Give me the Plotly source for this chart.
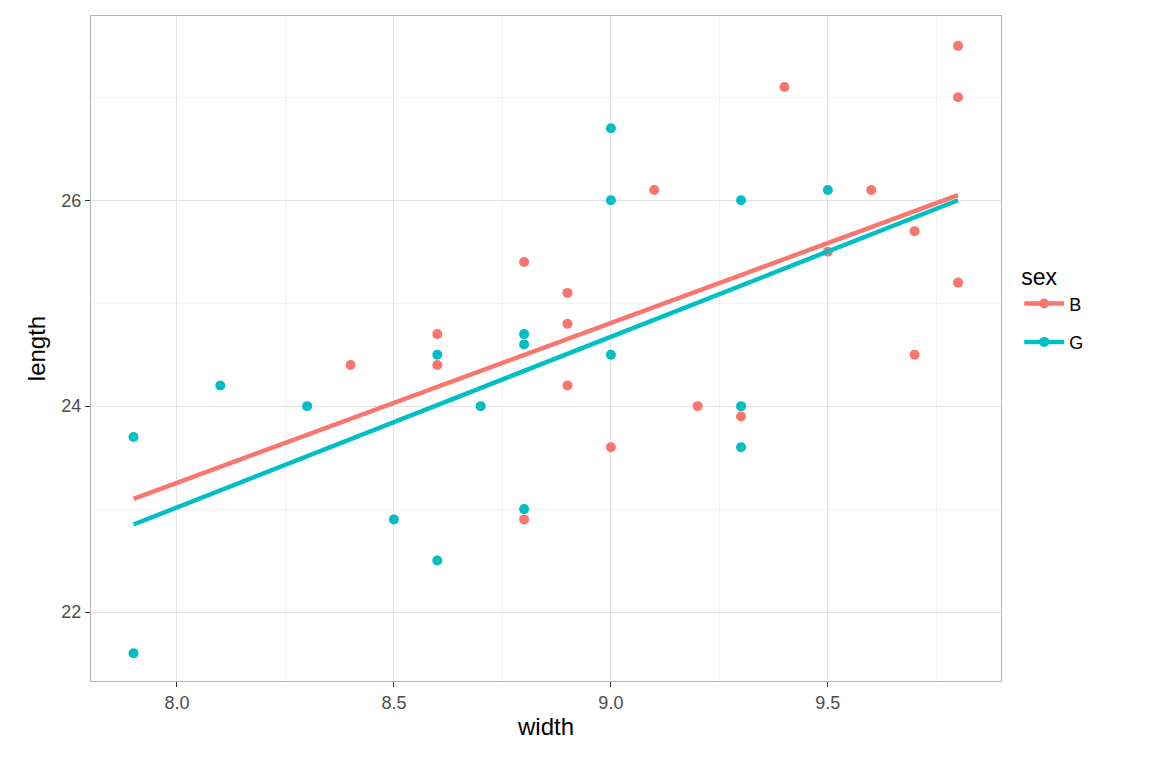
import plotly.graph_objects as go

# --- data ---
b_width = [8.4, 8.6, 8.6, 8.8, 8.8, 8.9, 8.9, 8.9, 9.0, 9.1, 9.2, 9.3, 9.4, 9.5, 9.6, 9.7, 9.7, 9.8, 9.8, 9.8]
b_length = [24.4, 24.7, 24.4, 25.4, 22.9, 25.1, 24.8, 24.2, 23.6, 26.1, 24.0, 23.9, 27.1, 25.5, 26.1, 25.7, 24.5, 27.5, 27.0, 25.2]
g_width = [7.9, 7.9, 8.1, 8.3, 8.5, 8.6, 8.6, 8.7, 8.8, 8.8, 8.8, 9.0, 9.0, 9.0, 9.3, 9.3, 9.3, 9.5]
g_length = [23.7, 21.6, 24.2, 24.0, 22.9, 24.5, 22.5, 24.0, 24.7, 24.6, 23.0, 26.7, 26.0, 24.5, 26.0, 24.0, 23.6, 26.1]

# fitted lines (endpoints as drawn)
fit_x = [7.9, 9.8]
b_fit = [23.1, 26.05]
g_fit = [22.85, 26.0]

RED = '#F8766D'
TEAL = '#00BFC4'

fig = go.Figure()
for name, col, wx, ly, fy in [('B', RED, b_width, b_length, b_fit),
                              ('G', TEAL, g_width, g_length, g_fit)]:
    fig.add_trace(go.Scatter(x=wx, y=ly, mode='markers', marker=dict(color=col, size=10),
                             name=name, legendgroup=name, showlegend=False))
    fig.add_trace(go.Scatter(x=fit_x, y=fy, mode='lines', line=dict(color=col, width=4.5),
                             name=name, legendgroup=name, showlegend=False))
    # legend entry: line with a dot
    fig.add_trace(go.Scatter(x=[None], y=[None], mode='lines+markers',
                             line=dict(color=col, width=4.5), marker=dict(color=col, size=10),
                             name=name, legendgroup=name))

fig.update_xaxes(range=[7.802, 9.899], tickvals=[8.0, 8.5, 9.0, 9.5],
                 ticktext=['8.0', '8.5', '9.0', '9.5'],
                 minor=dict(tickvals=[8.25, 8.75, 9.25, 9.75], showgrid=True, gridcolor='#F2F2F2', gridwidth=1),
                 gridcolor='#E3E3E3', gridwidth=1.3, zeroline=False,
                 showline=True, mirror=True, linecolor='#B3B3B3', linewidth=1,
                 ticks='outside', ticklen=5, tickcolor='#333333',
                 tickfont=dict(size=18, color='#4D4D4D'),
                 title=dict(text='width', font=dict(size=24, color='black'), standoff=6))
fig.update_yaxes(range=[21.33, 27.79], tickvals=[22, 24, 26],
                 minor=dict(tickvals=[23, 25, 27], showgrid=True, gridcolor='#F2F2F2', gridwidth=1),
                 gridcolor='#E3E3E3', gridwidth=1.3, zeroline=False,
                 showline=True, mirror=True, linecolor='#B3B3B3', linewidth=1,
                 ticks='outside', ticklen=5, tickcolor='#333333',
                 tickfont=dict(size=18, color='#4D4D4D'),
                 title=dict(text='length', font=dict(size=24, color='black'), standoff=8))

fig.update_layout(
    width=1152, height=768,
    margin=dict(l=83, r=159, t=8, b=95),
    plot_bgcolor='white', paper_bgcolor='white',
    font=dict(family='Liberation Sans, Arial, sans-serif'),
    legend=dict(title=dict(text='sex', font=dict(size=23, color='black')),
                font=dict(size=18, color='black'), x=1.02, y=0.64, yanchor='top',
                tracegroupgap=12, itemwidth=40),
)

fig.write_html("out.html")
